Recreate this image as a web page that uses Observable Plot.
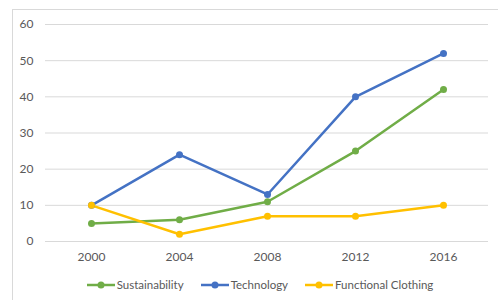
<!DOCTYPE html>
<html>
<head>
<meta charset="utf-8">
<script src="https://cdn.jsdelivr.net/npm/d3@7"></script>
<script src="https://cdn.jsdelivr.net/npm/@observablehq/plot@0.6"></script>
<style>
  html, body { margin: 0; padding: 0; background: #fff; }
  body { width: 498px; height: 300px; position: relative; overflow: hidden; font-family: "Lato", "Open Sans", sans-serif; }
  #frame { position: absolute; left: 12px; top: 9px; width: 490px; height: 300px; border-left: 1px solid #d9d9d9; border-top: 1px solid #d9d9d9; }
  #chart { position: absolute; left: 0; top: 0; }
  #legend { position: absolute; left: 0; top: 278px; width: 498px; display: flex; justify-content: center; gap: 17px; font-size: 11.5px; color: #595959; padding-left: 22px; box-sizing: border-box; }
  .item { display: flex; align-items: center; gap: 2px; }
</style>
</head>
<body>
<div id="frame"></div>
<div id="chart"></div>
<div id="legend"></div>
<script>
const years = ["2000", "2004", "2008", "2012", "2016"];
const sustainability = [5, 6, 11, 25, 42];
const technology = [10, 24, 13, 40, 52];
const functionalClothing = [10, 2, 7, 7, 10];
const seriesNames = ["Sustainability", "Technology", "Functional Clothing"];
const seriesColors = ["#70ad47", "#4472c4", "#ffc000"];
const yTicks = [0, 10, 20, 30, 40, 50, 60];

const seriesValues = [sustainability, technology, functionalClothing];
const data = [];
seriesNames.forEach((name, i) => {
  years.forEach((y, j) => data.push({series: name, year: y, value: seriesValues[i][j]}));
});

const plot = Plot.plot({
  width: 498,
  height: 270,
  marginLeft: 45,
  marginRight: 10,
  marginTop: 24,
  marginBottom: 29,
  style: {fontFamily: "Lato, 'Open Sans', sans-serif", fontSize: "12px", color: "#595959", background: "transparent"},
  x: {type: "point", domain: years, padding: 0.5, label: null, tickSize: 0, tickPadding: 11},
  y: {domain: [0, 60], ticks: yTicks, label: null, tickSize: 0, tickPadding: 12},
  color: {domain: seriesNames, range: seriesColors},
  marks: [
    Plot.gridY(yTicks, {stroke: "#d9d9d9", strokeOpacity: 1, strokeWidth: 1}),
    Plot.axisX({tickSize: 0, tickPadding: 11, fill: "#595959"}),
    Plot.axisY({ticks: yTicks, tickSize: 0, tickPadding: 12, fill: "#595959"}),
    Plot.line(data, {x: "year", y: "value", z: "series", stroke: "series", strokeWidth: 2.5}),
    Plot.dot(data, {x: "year", y: "value", fill: "series", r: 3.5})
  ]
});
document.getElementById("chart").appendChild(plot);

const legend = document.getElementById("legend");
seriesNames.forEach((name, i) => {
  const item = document.createElement("div");
  item.className = "item";
  item.innerHTML = `<svg width="28" height="10"><line x1="0" y1="5" x2="28" y2="5" stroke="${seriesColors[i]}" stroke-width="2.5"/><circle cx="14" cy="5" r="3.5" fill="${seriesColors[i]}"/></svg><span>${name}</span>`;
  legend.appendChild(item);
});
</script>
</body>
</html>
